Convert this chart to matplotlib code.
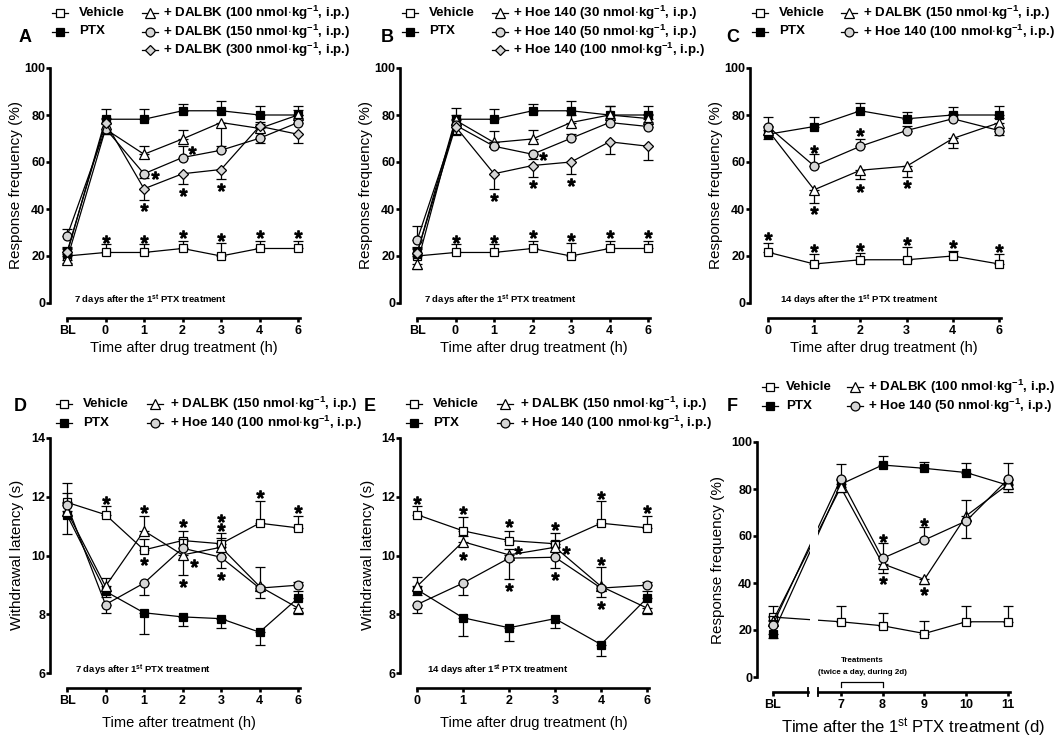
import numpy as np
import matplotlib.pyplot as plt
from matplotlib.lines import Line2D
from matplotlib.transforms import blended_transform_factory, ScaledTranslation

plt.rcParams['font.family'] = ['Liberation Sans', 'DejaVu Sans']
plt.rcParams['mathtext.fontset'] = 'custom'
plt.rcParams['mathtext.rm'] = 'Liberation Sans'
plt.rcParams['mathtext.bf'] = 'Liberation Sans:bold'
plt.rcParams['mathtext.it'] = 'Liberation Sans:italic'

# ---------------- data (mean, SEM; negative SEM = bar drawn downwards) -------------
time_bl6 = ['BL', '0', '1', '2', '3', '4', '6']
time_06 = ['0', '1', '2', '3', '4', '6']
days = ['BL', '7', '8', '9', '10', '11']

# A: DALBK, 7 days after PTX, response frequency (%)
a_vehicle = [20, 21.5, 21.5, 23.2, 20, 23.2, 23.2]
a_vehicle_err = [3, 3.4, 3.4, 3.3, 5.5, 3.3, 3.3]
a_ptx = [21, 78.2, 78.2, 81.8, 81.8, 80, 80]
a_ptx_err = [3, 4.2, 4.2, 3, 4, 3.8, 3.8]
a_dalbk100 = [18.5, 74, 63.3, 69.8, 76.8, 74.3, 80]
a_dalbk100_err = [-1.6, -2, 3.4, 3.7, -11.5, 2, 2]
a_dalbk150 = [28.4, 74.2, 55, 61.9, 65, 70.1, 76.8]
a_dalbk150_err = [3.2, 2, -2, 4.8, 2, -2, 2]
a_dalbk300 = [21.6, 76.8, 48.6, 55, 56.8, 75.2, 71.8]
a_dalbk300_err = [2, 2, -4.6, -4.5, -4, 2, -3.9]
a_star_x = [1, 2, 3, 4, 5, 6, 2, 2.29, 3, 3.25, 4]
a_star_y = [27.3, 27.3, 29.2, 28, 29.2, 29.2, 40.8, 54.3, 47.2, 65.3, 49.4]

# B: Hoe 140, 7 days after PTX
b_vehicle = [20, 21.5, 21.5, 23.2, 20, 23.2, 23.2]
b_vehicle_err = [3, 3.4, 3.4, 3.3, 5.5, 3.3, 3.3]
b_ptx = [21, 78.2, 78.2, 81.8, 81.8, 80, 80]
b_ptx_err = [3, 4.8, 4.2, 3, 4, 3.8, 3.8]
b_hoe30 = [16.4, 77.8, 68.3, 69.8, 76.8, 80, 78.5]
b_hoe30_err = [-2, 2, 5, 3.7, 3, 3.8, 2]
b_hoe50 = [26.6, 75.7, 66.7, 63.3, 70.1, 76.8, 75.1]
b_hoe50_err = [6, -4, 2, -2, 2, 2, 2]
b_hoe100 = [21.2, 75.1, 55, 58.5, 60, 68.6, 66.7]
b_hoe100_err = [2, -3, -6.4, -4.9, -5, -5, -6]
b_star_x = [1, 2, 3, 4, 5, 6, 2, 3, 4, 3.27]
b_star_y = [27.3, 27.3, 29.2, 28, 29.2, 29.2, 45.1, 50.5, 51.5, 62.4]

# C: 14 days after PTX
c_vehicle = [21.6, 16.6, 18.4, 18.4, 20, 16.6]
c_vehicle_err = [3.9, 4.3, 2.8, 5.4, 2.3, 4.3]
c_ptx = [71.8, 75.1, 81.8, 78.4, 80, 80]
c_ptx_err = [-2, 4.1, 3.1, 3, 3.5, 3.8]
c_dalbk150 = [73.5, 48.2, 56.5, 58.2, 70, 76.7]
c_dalbk150_err = [2, -5.7, -3.6, -4.6, -3.9, 2]
c_hoe100 = [75.1, 58.3, 66.7, 73.4, 78.4, 73.4]
c_hoe100_err = [4.1, 4.9, 3.1, 2, 2, -2]
c_star_x = [0, 1, 2, 3, 4, 5, 1, 2, 1, 2, 3]
c_star_y = [28.7, 23.5, 23.8, 26.3, 25.2, 23.5, 65.7, 72.8, 39.4, 49.1, 50.5]

# D: withdrawal latency (s), 7 days after PTX
d_vehicle = [11.81, 11.39, 10.19, 10.51, 10.4, 11.1, 10.94]
d_vehicle_err = [0.66, 0.3, 0.37, 0.34, 0.36, 0.77, 0.41]
d_ptx = [11.38, 8.78, 8.05, 7.91, 7.85, 7.39, 8.55]
d_ptx_err = [-0.66, -0.2, -0.72, -0.32, -0.33, -0.42, 0.23]
d_dalbk150 = [11.5, 8.95, 10.84, 10.02, 10.28, 8.95, 8.21]
d_dalbk150_err = [0.3, 0.28, 0.51, -0.68, 0.3, 0.65, -0.2]
d_hoe100 = [11.72, 8.33, 9.06, 10.25, 9.94, 8.89, 8.99]
d_hoe100_err = [0.42, -0.28, -0.42, 0.3, -0.37, -0.34, 0.1]
d_star_x = [1, 2, 3, 4, 4, 5, 6, 2, 3, 3.29, 4]
d_star_y = [11.89, 11.6, 11.1, 11.27, 10.96, 12.1, 11.57, 9.8, 9.06, 9.76, 9.29]

# E: withdrawal latency (s), 14 days after PTX
e_vehicle = [11.39, 10.84, 10.51, 10.4, 11.1, 10.94]
e_vehicle_err = [0.3, 0.48, 0.34, 0.36, 0.77, 0.41]
e_ptx = [8.84, 7.88, 7.54, 7.85, 6.97, 8.55]
e_ptx_err = [-0.2, -0.63, -0.46, -0.33, -0.4, 0.23]
e_dalbk150 = [8.95, 10.47, 10.02, 10.28, 8.95, 8.21]
e_dalbk150_err = [0.32, 0.2, 0.2, 0.2, -0.37, -0.2]
e_hoe100 = [8.33, 9.06, 9.91, 9.94, 8.89, 8.99]
e_hoe100_err = [-0.28, -0.42, -0.71, -0.37, 0.71, 0.1]
e_star_x = [0, 1, 2, 3, 4, 5, 1, 2.2, 3.23, 2, 3, 4, 4]
e_star_y = [11.89, 11.55, 11.1, 11.01, 12.06, 11.57, 9.97, 10.19, 10.19, 8.93, 9.31, 9.8, 8.33]

# F: repeated treatment, days after PTX
f_vehicle = [25.5, 23.5, 21.8, 18.5, 23.5, 23.5]
f_vehicle_err = [4.7, 6.7, 5.5, 5.5, 6.7, 6.7]
f_ptx = [18.5, 82, 90.2, 88.8, 87, 81.6]
f_ptx_err = [-2, 2, 3.7, 2.8, 4, -2.8]
f_dalbk100 = [24, 80.7, 48.2, 41.5, 68.6, 82]
f_dalbk100_err = [2, -2, -3.8, -2.1, -9.5, 2]
f_hoe50 = [22.3, 84.2, 50.5, 58.3, 66.4, 84.2]
f_hoe50_err = [2, 6.4, 6.7, 5.6, 9.1, 6.7]
f_star_x = [8, 8, 9, 9]
f_star_y = [59.3, 41.3, 66.1, 36.6]

# ---------------- styling ----------------
W, H = 1063, 739
fig = plt.figure(figsize=(W / 100, H / 100), dpi=100)

STYLES = {
    'vehicle': dict(marker='s', ms=5.8, mfc='white'),
    'ptx': dict(marker='s', ms=5.8, mfc='black'),
    'tri': dict(marker='^', ms=6.8, mfc='white'),
    'circ': dict(marker='o', ms=6.4, mfc='#d6d6d6'),
    'diam': dict(marker='D', ms=5.0, mfc='#d6d6d6'),
}
SPINE_LW = 1.9
LW = 0.9


def fx(x):
    return x / W


def fy(y):
    return 1 - y / H


def make_axes(left, right, top, bottom):
    return fig.add_axes([fx(left), fy(bottom), (right - left) / W, (bottom - top) / H])


def style_axes(ax, xpos, xlabels, xlim, ylim, yticks, spine_end):
    ax.set_xlim(xlim)
    ax.set_ylim(ylim)
    ax.patch.set_visible(False)
    for s in ('top', 'right'):
        ax.spines[s].set_visible(False)
    for s in ('left', 'bottom'):
        ax.spines[s].set_linewidth(SPINE_LW)
        ax.spines[s].set_capstyle('projecting')
    ax.spines['bottom'].set_position(('outward', 11))
    ax.spines['bottom'].set_bounds(xpos[0], spine_end)
    ax.spines['left'].set_bounds(*ylim)
    ax.set_xticks(xpos, xlabels, fontweight='bold', fontsize=9)
    ax.set_yticks(yticks, [str(t) for t in yticks], fontweight='bold', fontsize=9)
    ax.tick_params(direction='out', width=SPINE_LW, length=3)
    ax.tick_params(axis='y', pad=0.5)
    ax.tick_params(axis='x', pad=1.5)


def draw_series(ax, xpos, vals, errs, key, z):
    errs = np.asarray(errs, dtype=float)
    lo = np.where(errs < 0, -errs, 0)
    hi = np.where(errs > 0, errs, 0)
    ax.errorbar(xpos, vals, yerr=[lo, hi], fmt='none', ecolor='k', elinewidth=LW,
                capsize=3.5, capthick=LW, zorder=z, clip_on=False)
    ax.plot(xpos, vals, color='k', lw=LW, mec='k', mew=LW, zorder=z + 0.5,
            clip_on=False, **STYLES[key])


def draw_stars(ax, sx, sy):
    ax.plot(sx, sy, ls='none', marker='$*$', ms=5.3, color='k', zorder=30, clip_on=False)


def legend_entry(xc, y, key, label, tx):
    fig.add_artist(Line2D([fx(xc - 8), fx(xc + 8)], [fy(y), fy(y)], color='k', lw=LW))
    fig.add_artist(Line2D([fx(xc)], [fy(y)], color='k', mec='k', mew=LW, **STYLES[key]))
    fig.text(fx(tx), fy(y), label, fontsize=9.6, fontweight='bold', ha='left', va='center')


def legend_block(y0, col1, col2, items1, items2, dy=18.5):
    for i, (key, lab) in enumerate(items1):
        legend_entry(col1[0], y0 + i * dy, key, lab, col1[1])
    for i, (key, lab) in enumerate(items2):
        legend_entry(col2[0], y0 + i * dy, key, lab, col2[1])


def ftext(x, y, s, **kw):
    fig.text(fx(x), fy(y), s, **kw)


def dose(name, d):
    return '+ ' + name + ' (' + d + r' nmol$\cdot$kg$^{\mathbf{-1}}$, i.p.)'


note_kw = dict(fontsize=6.8, fontweight='bold', ha='left', va='center')
st = r'$^{\mathbf{st}}$'
ylab_kw = dict(fontsize=11, rotation=90, ha='center', va='center')
xlab_kw = dict(fontsize=10.5, ha='center', va='center')
base_items = [('vehicle', 'Vehicle'), ('ptx', 'PTX')]

# ---------------- panel A ----------------
x7 = np.arange(len(time_bl6))
ax = make_axes(50, 305, 68, 303)
style_axes(ax, x7, time_bl6, (-17 / 38.5, 238 / 38.5), (0, 100), [0, 20, 40, 60, 80, 100], 6.05)
for i, (v, e, k) in enumerate([(a_vehicle, a_vehicle_err, 'vehicle'), (a_ptx, a_ptx_err, 'ptx'),
                               (a_dalbk100, a_dalbk100_err, 'tri'), (a_dalbk150, a_dalbk150_err, 'circ'),
                               (a_dalbk300, a_dalbk300_err, 'diam')]):
    draw_series(ax, x7, v, e, k, 3 + 2 * i)
draw_stars(ax, a_star_x, a_star_y)
ftext(74, 300, '7 days after the 1' + st + ' PTX treatment', **note_kw)
ftext(16, 185, 'Response frequency (%)', **ylab_kw)
ftext(184, 348, 'Time after drug treatment (h)', **xlab_kw)
ftext(25, 38, 'A', fontsize=13, fontweight='bold', ha='center', va='center')
legend_block(13, (60, 79), (150, 163), base_items,
             [('tri', dose('DALBK', '100')), ('circ', dose('DALBK', '150')), ('diam', dose('DALBK', '300'))])

# ---------------- panel B ----------------
ax = make_axes(400, 655, 68, 303)
style_axes(ax, x7, time_bl6, (-17 / 38.5, 238 / 38.5), (0, 100), [0, 20, 40, 60, 80, 100], 6.05)
for i, (v, e, k) in enumerate([(b_vehicle, b_vehicle_err, 'vehicle'), (b_ptx, b_ptx_err, 'ptx'),
                               (b_hoe30, b_hoe30_err, 'tri'), (b_hoe50, b_hoe50_err, 'circ'),
                               (b_hoe100, b_hoe100_err, 'diam')]):
    draw_series(ax, x7, v, e, k, 3 + 2 * i)
draw_stars(ax, b_star_x, b_star_y)
ftext(424, 300, '7 days after the 1' + st + ' PTX treatment', **note_kw)
ftext(366, 185, 'Response frequency (%)', **ylab_kw)
ftext(534, 348, 'Time after drug treatment (h)', **xlab_kw)
ftext(387, 38, 'B', fontsize=13, fontweight='bold', ha='center', va='center')
legend_block(13, (410, 429), (500, 513), base_items,
             [('tri', dose('Hoe 140', '30')), ('circ', dose('Hoe 140', '50')), ('diam', dose('Hoe 140', '100'))])

# ---------------- panel C ----------------
x6 = np.arange(len(time_06))
ax = make_axes(750, 1005, 68, 303)
style_axes(ax, x6, time_06, (-18 / 46.2, 237 / 46.2), (0, 100), [0, 20, 40, 60, 80, 100], 5.04)
for i, (v, e, k) in enumerate([(c_vehicle, c_vehicle_err, 'vehicle'), (c_ptx, c_ptx_err, 'ptx'),
                               (c_dalbk150, c_dalbk150_err, 'tri'), (c_hoe100, c_hoe100_err, 'circ')]):
    draw_series(ax, x6, v, e, k, 3 + 2 * i)
draw_stars(ax, c_star_x, c_star_y)
ftext(780, 300, '14 days after the 1' + st + ' PTX treatment', **note_kw)
ftext(716, 185, 'Response frequency (%)', **ylab_kw)
ftext(884, 348, 'Time after drug treatment (h)', **xlab_kw)
ftext(733, 38, 'C', fontsize=13, fontweight='bold', ha='center', va='center')
legend_block(13, (760, 779), (849, 863), base_items,
             [('tri', dose('DALBK', '150')), ('circ', dose('Hoe 140', '100'))])

# ---------------- panel D ----------------
ax = make_axes(50, 305, 438, 673)
style_axes(ax, x7, time_bl6, (-17 / 38.5, 238 / 38.5), (6, 14), [6, 8, 10, 12, 14], 6.05)
for i, (v, e, k) in enumerate([(d_vehicle, d_vehicle_err, 'vehicle'), (d_ptx, d_ptx_err, 'ptx'),
                               (d_dalbk150, d_dalbk150_err, 'tri'), (d_hoe100, d_hoe100_err, 'circ')]):
    draw_series(ax, x7, v, e, k, 3 + 2 * i)
draw_stars(ax, d_star_x, d_star_y)
ftext(75, 670, '7 days after 1' + st + ' PTX treatment', **note_kw)
ftext(17, 555, 'Withdrawal latency (s)', **ylab_kw)
ftext(179, 723, 'Time after treatment (h)', **xlab_kw)
ftext(20, 407, 'D', fontsize=13, fontweight='bold', ha='center', va='center')
legend_block(404, (64, 83), (155, 170), base_items,
             [('tri', dose('DALBK', '150')), ('circ', dose('Hoe 140', '100'))])

# ---------------- panel E ----------------
ax = make_axes(400, 655, 438, 673)
style_axes(ax, x6, time_06, (-17 / 46, 238 / 46), (6, 14), [6, 8, 10, 12, 14], 5.04)
for i, (v, e, k) in enumerate([(e_vehicle, e_vehicle_err, 'vehicle'), (e_ptx, e_ptx_err, 'ptx'),
                               (e_dalbk150, e_dalbk150_err, 'tri'), (e_hoe100, e_hoe100_err, 'circ')]):
    draw_series(ax, x6, v, e, k, 3 + 2 * i)
draw_stars(ax, e_star_x, e_star_y)
ftext(427, 670, '14 days after 1' + st + ' PTX treatment', **note_kw)
ftext(368, 555, 'Withdrawal latency (s)', **ylab_kw)
ftext(534, 723, 'Time after drug treatment (h)', **xlab_kw)
ftext(370, 407, 'E', fontsize=13, fontweight='bold', ha='center', va='center')
legend_block(404, (414, 433), (505, 520), base_items,
             [('tri', dose('DALBK', '150')), ('circ', dose('Hoe 140', '100'))])

# ---------------- panel F ----------------
bl_pos = 5.38          # where the baseline sits on the broken day axis
break_lo, break_hi = 6.22, 6.46
xf = [bl_pos] + [float(d) for d in days[1:]]
ax = make_axes(757, 1016, 442, 677)
style_axes(ax, xf, days, (bl_pos - 16 / 42, 11 + 8 / 42), (0, 100), [0, 20, 40, 60, 80, 100], 11.05)
ax.spines['bottom'].set_bounds(break_hi, 11.05)
for i, (v, e, k) in enumerate([(f_vehicle, f_vehicle_err, 'vehicle'), (f_ptx, f_ptx_err, 'ptx'),
                               (f_dalbk100, f_dalbk100_err, 'tri'), (f_hoe50, f_hoe50_err, 'circ')]):
    draw_series(ax, xf, v, e, k, 3 + 2 * i)
draw_stars(ax, f_star_x, f_star_y)
ax.axvspan(break_lo + 0.04, break_hi - 0.01, color='white', zorder=25, lw=0)
# broken x axis: baseline segment and end caps
tr = blended_transform_factory(ax.transData, ax.transAxes) + ScaledTranslation(0, -11 / 72, fig.dpi_scale_trans)
ax.plot([bl_pos, break_lo], [0, 0], color='k', lw=SPINE_LW, solid_capstyle='projecting',
        transform=tr, clip_on=False)
for xb in (break_lo, break_hi):
    ax.plot([xb, xb], [-0.017, 0.017], color='k', lw=SPINE_LW * 0.7, transform=tr, clip_on=False)
# treatment bracket
trb = blended_transform_factory(ax.transData, ax.transAxes)
ax.plot([7, 7, 8, 8], [-0.041, -0.020, -0.020, -0.041], color='k', lw=0.9, transform=trb, clip_on=False)
ftext(862, 661, 'Treatments', fontsize=5.8, fontweight='bold', ha='center', va='center')
ftext(862, 672, '(twice a day, during 2d)', fontsize=5.8, fontweight='bold', ha='center', va='center')
ftext(718, 560, 'Response frequency (%)', **ylab_kw)
ftext(913, 728, 'Time after the 1' + r'$^{\mathrm{st}}$' + ' PTX treatment (d)', fontsize=12,
      ha='center', va='center')
ftext(732, 407, 'F', fontsize=13, fontweight='bold', ha='center', va='center')
legend_block(387, (770, 786), (855, 868), base_items,
             [('tri', dose('DALBK', '100')), ('circ', dose('Hoe 140', '50'))])

fig.savefig('out.png', dpi=100)
